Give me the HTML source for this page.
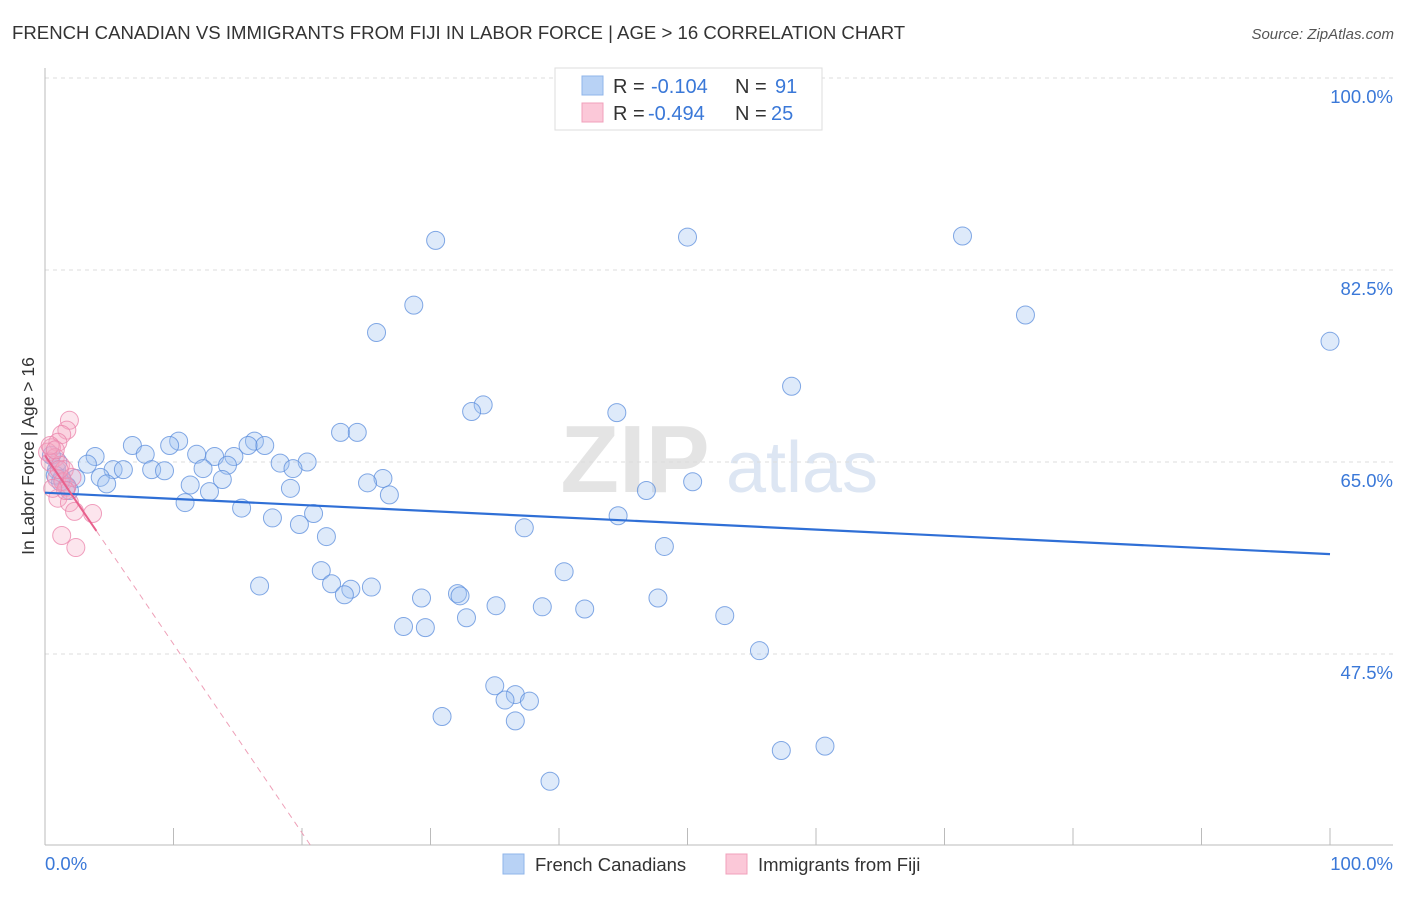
<!DOCTYPE html>
<html><head><meta charset="utf-8"><style>
body{margin:0;background:#fff;font-family:"Liberation Sans",sans-serif}
svg text{font-family:"Liberation Sans",sans-serif}
</style></head><body>
<svg id="c" width="1406" height="892">
<text x="12" y="39" font-size="18.6" fill="#333">FRENCH CANADIAN VS IMMIGRANTS FROM FIJI IN LABOR FORCE | AGE &gt; 16 CORRELATION CHART</text>
<text x="1394" y="39" font-size="15" fill="#555" font-style="italic" text-anchor="end">Source: ZipAtlas.com</text>
<text x="635" y="492" font-size="96" fill="#e4e4e4" font-family="Liberation Serif" text-anchor="middle" font-weight="bold">ZIP</text>
<text x="802" y="492" font-size="72" fill="#dde6f3" text-anchor="middle">atlas</text>
<text transform="translate(34,456) rotate(-90)" font-size="17.5" fill="#333" text-anchor="middle">In Labor Force | Age &gt; 16</text>
<g id="grid"></g><g id="pts"></g><g id="lines"></g>
<g>
<rect x="555" y="68" width="267" height="62" fill="#fff" stroke="#ddd"/>
<rect x="582" y="76" width="21" height="19" fill="#b8d2f5" stroke="#8fb5ea"/>
<rect x="582" y="103" width="21" height="19" fill="#fbc8d8" stroke="#f0a0bb"/>
<text x="613" y="93" font-size="20" fill="#333">R = <tspan x="651" fill="#3a78d8">-0.104</tspan><tspan x="735">N = </tspan><tspan x="775" fill="#3a78d8">91</tspan></text>
<text x="613" y="120" font-size="20" fill="#333">R = <tspan x="648" fill="#3a78d8">-0.494</tspan><tspan x="735">N = </tspan><tspan x="771" fill="#3a78d8">25</tspan></text>
</g>
<g>
<rect x="503" y="854" width="21" height="20" fill="#b8d2f5" stroke="#8fb5ea"/>
<text x="535" y="871" font-size="18.5" fill="#333">French Canadians</text>
<rect x="726" y="854" width="21" height="20" fill="#fbc8d8" stroke="#f0a0bb"/>
<text x="758" y="871" font-size="18.5" fill="#333">Immigrants from Fiji</text>
</g>
</svg>
<script>
const blueX=[30.4,50.0,71.4,28.7,76.3,25.8,100,58.1,34.1,33.2,44.5,23.0,24.3,10.4,6.8,9.7,16.3,17.1,7.8,11.8,13.2,14.7,3.9,3.3,18.3,20.4,19.3,15.8,5.3,6.1,8.3,9.3,12.3,14.2,4.3,2.4,26.3,13.8,4.8,11.3,25.1,50.4,46.8,19.1,12.8,26.8,10.9,15.3,44.6,20.9,17.7,19.8,37.3,21.9,48.2,21.5,40.4,22.3,23.8,25.4,16.7,23.3,32.1,32.3,29.3,47.7,35.1,38.7,42.0,32.8,52.9,27.9,29.6,55.6,35.0,36.6,35.8,37.7,30.9,36.6,57.3,60.7,39.3,0.9,1.3,1.7,1.0,0.5,1.9,1.2,0.8];
const blueY=[85.2,85.5,85.6,79.3,78.4,76.8,76.0,71.9,70.2,69.6,69.5,67.7,67.7,66.9,66.5,66.5,66.9,66.5,65.7,65.7,65.5,65.5,65.5,64.8,64.9,65.0,64.4,66.5,64.3,64.3,64.3,64.2,64.4,64.7,63.6,63.5,63.5,63.4,63.0,62.9,63.1,63.2,62.4,62.6,62.3,62.0,61.3,60.8,60.1,60.3,59.9,59.3,59.0,58.2,57.3,55.1,55.0,53.9,53.4,53.6,53.7,52.9,53.0,52.8,52.6,52.6,51.9,51.8,51.6,50.8,51.0,50.0,49.9,47.8,44.6,43.8,43.3,43.2,41.8,41.4,38.7,39.1,35.9,64.3,63.5,62.8,65.0,65.6,62.4,63.2,63.8];
const pinkX=[1.9,1.7,1.3,1.0,0.5,0.2,0.8,0.4,1.2,1.5,0.9,1.4,1.7,2.1,1.0,1.9,2.3,3.7,1.3,2.4,0.4,0.8,1.1,1.6,0.6];
const pinkY=[68.8,67.9,67.5,66.8,66.3,65.9,65.4,65.0,64.7,64.3,63.5,63.2,62.7,63.6,61.7,61.3,60.5,60.3,58.3,57.2,66.5,66.1,64.3,62.4,62.6];
const blueTrend=[62.2,56.6];
const pinkTrend=[65.6,-1.72];
const yTicks=[100,82.5,65,47.5];
const xTickVals=[0,10,20,30,40,50,60,70,80,90,100];
const NS="http://www.w3.org/2000/svg";
const X=v=>45+v*12.85, Y=v=>78+(100-v)*10.971;
function mk(t,a,p){const e=document.createElementNS(NS,t);for(const k in a)e.setAttribute(k,a[k]);p.appendChild(e);return e;}
const g=document.getElementById('grid');
yTicks.forEach(t=>{
 const l=mk('line',{x1:45,x2:1393,y1:Y(t),y2:Y(t),stroke:'#ddd','stroke-dasharray':'4,4'},g);
 
 
 const tx=mk('text',{x:1393,y:Y(t)+25,'font-size':18.5,fill:'#3a78d8','text-anchor':'end'},g);
 tx.textContent=t.toFixed(1)+'%';
 
 
});
const ax=mk('line',{x1:45,x2:1393,y1:845,y2:845,stroke:'#bbb'},g);


const ay=mk('line',{x1:45,x2:45,y1:68,y2:845,stroke:'#bbb'},g);


xTickVals.forEach(t=>{
 const l=mk('line',{x1:X(t),x2:X(t),y1:828,y2:845,stroke:'#bbb'},g);
 
 
});
[[0,'start',45],[100,'end',1393]].forEach(([v,a,px])=>{
 const tx=mk('text',{x:px,y:870,'font-size':18.5,fill:'#3a78d8','text-anchor':a},g);
 tx.textContent=v.toFixed(1)+'%';
 
 
});
const p=document.getElementById('pts');
blueX.forEach((x,i)=>{
 const c=mk('circle',{cx:X(x),cy:Y(blueY[i]),r:9,fill:'rgba(160,195,240,0.35)',stroke:'rgba(90,140,220,0.75)','stroke-width':1},p);
 
 
});
pinkX.forEach((x,i)=>{
 const c=mk('circle',{cx:X(x),cy:Y(pinkY[i]),r:9,fill:'rgba(245,170,195,0.3)',stroke:'rgba(235,130,170,0.75)','stroke-width':1},p);
 
 
});
const L=document.getElementById('lines');
const bl=mk('line',{x1:X(0),y1:Y(blueTrend[0]),x2:X(100),y2:Y(blueTrend[1]),stroke:'#2f6fd6','stroke-width':2.2},L);


const pf=x=>pinkTrend[0]+pinkTrend[1]*x;
const xEnd=(pinkTrend[0]-30.1)/-pinkTrend[1];
const ps=mk('line',{x1:X(0),y1:Y(pf(0)),x2:X(4),y2:Y(pf(4)),stroke:'#e8608c','stroke-width':2},L);


const pd=mk('line',{x1:X(4),y1:Y(pf(4)),x2:X(xEnd),y2:Y(pf(xEnd)),stroke:'#eea0b8','stroke-width':1,'stroke-dasharray':'6,5'},L);


</script>
</body></html>
